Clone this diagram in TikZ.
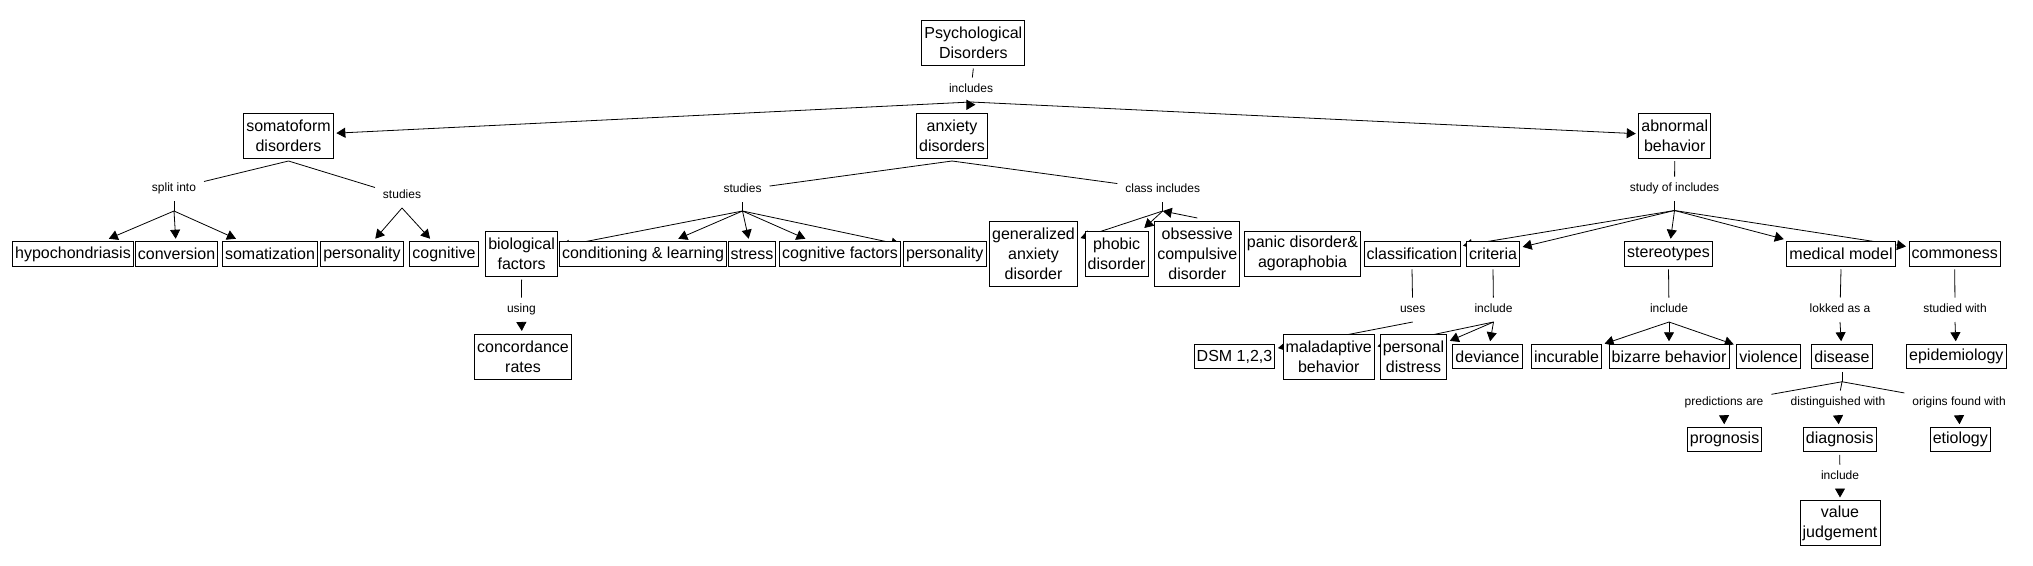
\documentclass[tikz,border=0pt]{standalone}
\usepackage{fontspec}
\newfontfamily\cmapfont{Liberation Sans}
\usetikzlibrary{arrows.meta,backgrounds}

\tikzset{
  concept/.style={draw, fill=white, line width=0.9pt, align=center,
    font=\cmapfont\fontsize{16}{20}\selectfont,
    inner xsep=2.6pt, inner ysep=0pt, minimum height=24.5pt, outer sep=3pt},
  two/.style={concept, minimum height=45pt},
  three/.style={concept, minimum height=65pt},
  phrase/.style={anchor=base, font=\cmapfont\fontsize{12}{14}\selectfont,
    text height=9pt, text depth=4.5pt, inner xsep=8pt, inner ysep=5.5pt, outer sep=0pt},
  link/.style={line width=0.8pt},
  arr/.style={link, -{Triangle[length=9pt,width=10pt]}}
}

\begin{document}
\begin{tikzpicture}[x=1pt, y=-1pt]
\useasboundingbox (0,0) rectangle (2033,565);

% top levels
\node[two] (pd)   at (973.3,43)    {Psychological\\Disorders};
\node[two] (soma) at (288.5,135.5) {somatoform\\disorders};
\node[two] (anx)  at (952,135.5)   {anxiety\\disorders};
\node[two] (abn)  at (1674.7,135.5) {abnormal\\behavior};

% somatoform row
\node[concept] (hypo)  at (73,254)    {hypochondriasis};
\node[concept] (conv)  at (176.6,254) {conversion};
\node[concept] (somz)  at (270,254)   {somatization};
\node[concept] (pers1) at (362,254)   {personality};
\node[concept] (cogn)  at (444,254)   {cognitive};

% anxiety row
\node[two] (bio)  at (521.6,254)  {biological\\factors};
\node[two] (conc) at (523,356.5)  {concordance\\rates};
\node[concept] (cond)   at (643,254)   {conditioning \& learning};
\node[concept] (stress) at (752,254)   {stress};
\node[concept] (cogf)   at (840,254)   {cognitive factors};
\node[concept] (pers2)  at (944.7,254) {personality};
\node[three] (gad)  at (1033.5,253.5) {generalized\\anxiety\\disorder};
\node[two]   (phob) at (1116.6,253.5) {phobic\\disorder};
\node[three] (ocd)  at (1197.3,253.5) {obsessive\\compulsive\\disorder};
\node[two] (panic)  at (1302.5,253.5) {panic disorder\&\\agoraphobia};

% abnormal behavior row
\node[concept] (clas) at (1412,254)   {classification};
\node[concept] (crit) at (1493,254)   {criteria};
\node[concept] (ster) at (1668.5,254) {stereotypes};
\node[concept] (med)  at (1841,254)   {medical model};
\node[concept] (comm) at (1954.7,254) {commoness};

\node[concept] (dsm) at (1234.5,356.5) {DSM 1,2,3};
\node[two] (mal)  at (1328.7,356.5) {maladaptive\\behavior};
\node[two] (pdis) at (1413.5,356.5) {personal\\distress};
\node[concept] (dev)  at (1487.5,356.5) {deviance};
\node[concept] (incu) at (1566.5,356.5) {incurable};
\node[concept] (biz)  at (1669,356.5)   {bizarre behavior};
\node[concept] (viol) at (1768.7,356.5) {violence};
\node[concept] (dis)  at (1842,356.5)   {disease};
\node[concept] (epid) at (1956.3,356.5) {epidemiology};
\node[concept] (prog) at (1724.6,439.5) {prognosis};
\node[concept] (diag) at (1839.7,439.5) {diagnosis};
\node[concept] (etio) at (1960.3,439.5) {etiology};
\node[two] (valj) at (1840,523) {value\\judgement};

% linking phrases
\node[phrase] (inc)   at (971,92)     {includes};
\node[phrase] (split) at (174,191)    {split into};
\node[phrase] (stuA)  at (402,198)    {studies};
\node[phrase] (stuB)  at (742.5,192)  {studies};
\node[phrase] (cls)   at (1162.7,192) {class includes};
\node[phrase] (stof)  at (1674.5,191) {study of includes};
\node[phrase] (using) at (521.4,312)  {using};
\node[phrase] (uses)  at (1412.7,312) {uses};
\node[phrase] (incC)  at (1493.5,312) {include};
\node[phrase] (incS)  at (1669,312)   {include};
\node[phrase] (lok)   at (1840,312)   {lokked as a};
\node[phrase] (stw)   at (1955,312)   {studied with};
\node[phrase] (pred)  at (1724,405)   {predictions are};
\node[phrase] (dist)  at (1838,405)   {distinguished with};
\node[phrase] (orig)  at (1959,405)   {origins found with};
\node[phrase] (incD)  at (1840,479)   {include};

\coordinate (splithub) at ([yshift=-10pt]split.south);
\coordinate (stuBhub)  at ([yshift=-9pt]stuB.south);
\coordinate (clshub)   at ([yshift=-9pt]cls.south);
\coordinate (stofhub)  at ([yshift=-9.5pt]stof.south);
\coordinate (dishub)   at ([yshift=-10pt]dis.south);

\begin{scope}[on background layer]
  \fill[white] (0,0) rectangle (2033,565);
  % concept to phrase
  \path[link]
    (pd.south)   edge (inc)
    (soma.south) edge (split) edge (stuA)
    (anx.south)  edge (stuB) edge (cls)
    (abn.south)  edge (stof)
    (bio.south)  edge (using)
    (clas.south) edge (uses)
    (crit.south) edge (incC)
    (ster.south) edge (incS)
    (med.south)  edge (lok)
    (comm.south) edge (stw)
    (diag.south) edge (incD)
    (split.south) edge (splithub)
    (stuB.south)  edge (stuBhub)
    (cls.south)   edge (clshub)
    (stof.south)  edge (stofhub)
    (dis.south)   edge (dishub)
    (dishub) edge (pred) edge (dist) edge (orig);
  % phrase to concept
  \path[arr]
    (inc.south)  edge (soma) edge (anx) edge (abn)
    (splithub)   edge (hypo) edge (conv) edge (somz)
    (stuA.south) edge (pers1) edge (cogn)
    (stuBhub)    edge (bio) edge (cond) edge (stress) edge (cogf) edge (pers2)
    (clshub)     edge (gad) edge (phob)
    (ocd.north)  edge (clshub)
    (stofhub)    edge (clas) edge (crit) edge (ster) edge (med) edge (comm)
    (using.south) edge (conc)
    (uses.south)  edge (dsm)
    (incC.south)  edge (mal) edge (pdis) edge (dev)
    (incS.south)  edge (incu) edge (biz) edge (viol)
    (lok.south)   edge (dis)
    (stw.south)   edge (epid)
    (pred.south)  edge (prog)
    (dist.south)  edge (diag)
    (orig.south)  edge (etio)
    (incD.south)  edge (valj);
\end{scope}
\end{tikzpicture}
\end{document}
